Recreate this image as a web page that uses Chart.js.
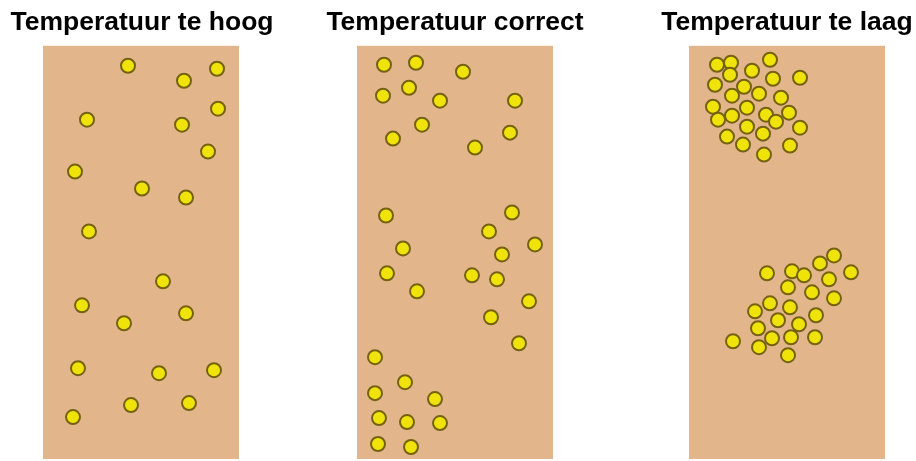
<!DOCTYPE html>
<html>
<head>
<meta charset="utf-8">
<script src="https://cdn.jsdelivr.net/npm/chart.js@4"></script>
<style>
  html, body { margin: 0; padding: 0; background: #fff; overflow: hidden; }
  .panel { position: absolute; top: 0; width: 300px; height: 461px; }
  canvas { display: block; }
</style>
</head>
<body>
<div class="panel" style="left:-8px"><canvas id="c1" width="300" height="461"></canvas></div>
<div class="panel" style="left:305px"><canvas id="c2" width="300" height="461"></canvas></div>
<div class="panel" style="left:637px"><canvas id="c3" width="300" height="461"></canvas></div>
<script>
// titels boven de buizen
const titles = ['Temperatuur te hoog', 'Temperatuur correct', 'Temperatuur te laag'];

// positie van de deeltjes in de buis (x vanaf links, y vanaf boven)
const teHoog = [
  [85,20],[174,23],[141,35],[175,63],[44,74],[139,79],[165,106],[32,126],
  [99,143],[143,152],[46,186],[120,236],[39,260],[143,268],[81,278],
  [35,323],[116,328],[171,325],[88,360],[146,358],[30,372]
];
const correct = [
  [27,19],[59,17],[106,26],[52,42],[26,50],[83,55],[158,55],[65,79],
  [153,87],[36,93],[118,102],[29,170],[155,167],[132,186],[46,203],
  [178,199],[145,209],[30,228],[115,230],[140,234],[60,246],[172,256],
  [134,272],[162,298],[18,312],[48,337],[18,348],[78,354],[22,373],
  [50,377],[83,378],[21,399],[54,402]
];
const teLaag = [
  [28,19],[42,17],[81,14],[41,29],[63,25],[84,33],[111,32],[26,39],
  [55,41],[43,50],[70,48],[92,52],[24,61],[58,62],[77,69],[100,67],
  [29,74],[43,70],[87,76],[58,81],[111,82],[38,91],[74,88],[54,99],
  [101,100],[75,109],
  [145,210],[131,218],[162,227],[103,226],[115,230],[78,228],[140,234],
  [99,242],[123,247],[145,253],[81,258],[101,262],[66,266],[127,270],
  [89,275],[110,279],[69,283],[83,293],[102,292],[126,292],[44,296],
  [70,302],[99,310]
];

const tubeWidth = 196;
const tubeHeight = 414;

// buis achtergrond: breedte via de x-schaal, hoogte = chartArea
const tubeFill = {
  id: 'tubeFill',
  beforeDatasetsDraw(chart) {
    const a = chart.chartArea;
    const xs = chart.scales.x;
    const l = xs.getPixelForValue(0);
    const r = xs.getPixelForValue(tubeWidth);
    const ctx = chart.ctx;
    ctx.save();
    ctx.fillStyle = '#e3b58b';
    ctx.fillRect(l, a.top, r - l, a.bottom - a.top);
    ctx.restore();
  }
};

function makeTube(id, title, pts, shift) {
  const ctx = document.getElementById(id).getContext('2d');
  return new Chart(ctx, {
    type: 'scatter',
    data: {
      datasets: [{
        data: pts.map(p => ({ x: p[0], y: p[1] })),
        pointRadius: 7,
        pointBorderWidth: 2,
        pointBackgroundColor: '#f0e30a',
        pointBorderColor: '#75620f',
        clip: false
      }]
    },
    options: {
      responsive: false,
      animation: false,
      devicePixelRatio: 1,
      layout: { autoPadding: false, padding: { left: 0, right: 0, top: 0, bottom: 2 } },
      scales: {
        x: { display: false, min: -52 + shift, max: tubeWidth + 52 + shift },
        y: { display: false, min: 0, max: tubeHeight, reverse: true }
      },
      plugins: {
        legend: { display: false },
        tooltip: { enabled: false },
        title: {
          display: true,
          text: title,
          color: '#000',
          font: { family: '"Liberation Sans", Arial, sans-serif', size: 26.5, weight: 'bold' },
          padding: { top: 7, bottom: 7 }
        }
      }
    },
    plugins: [tubeFill]
  });
}

makeTube('c1', titles[0], teHoog, 1);
makeTube('c2', titles[1], correct, 0);
makeTube('c3', titles[2], teLaag, 0);
</script>
</body>
</html>
